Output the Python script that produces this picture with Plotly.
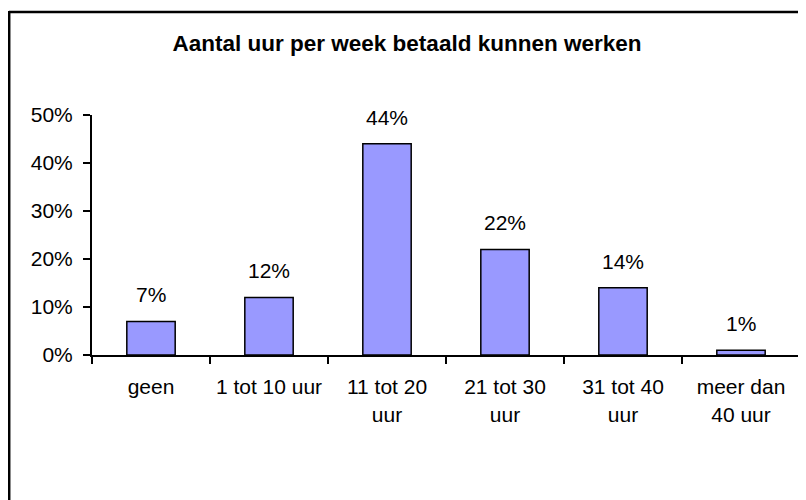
import plotly.graph_objects as go

categories = ["geen", "1 tot 10 uur", "11 tot 20<br>uur", "21 tot 30<br>uur", "31 tot 40<br>uur", "meer dan<br>40 uur"]
values = [7, 12, 44, 22, 14, 1]
tick_vals = [0, 0.1, 0.2, 0.3, 0.4, 0.5]
tick_text = ["0%", "10%", "20%", "30%", "40%", "50%"]
title_text = "Aantal uur per week betaald kunnen werken"

FONT = "Liberation Sans, Arial, sans-serif"

fig = go.Figure()
fig.add_trace(go.Bar(
    x=categories,
    y=[v / 100 for v in values],
    marker=dict(color="#9999FF", line=dict(color="black", width=1.5)),
    width=0.41,
    hoverinfo="skip",
))

for c, v in zip(categories, values):
    fig.add_annotation(
        x=c, y=v / 100, text=f"{v}%", showarrow=False,
        xref="x", yref="y", yanchor="bottom", yshift=13,
        font=dict(family=FONT, size=21, color="black"),
    )

# page body adds an 8px offset; compensate in the margins
OFF = 8
W, H = 806, 500
L, T = 92 - OFF, 115 - OFF
pw, ph = 708, 240
R, B = W - L - pw, H - T - ph

def fx(p):  # figure pixel -> paper x
    return (p - L) / pw

def fy(p):  # figure pixel -> paper y
    return (T + ph - p) / ph

# outer chart border: top and left edges (right/bottom fall outside the picture)
border = dict(color="black", width=2.5)
fig.add_shape(type="line", xref="paper", yref="paper",
              x0=fx(1), x1=fx(W), y0=fy(4), y1=fy(4), line=border, layer="above")
fig.add_shape(type="line", xref="paper", yref="paper",
              x0=fx(1.2), x1=fx(1.2), y0=fy(3), y1=fy(H), line=border, layer="above")

fig.update_layout(
    width=W, height=H,
    margin=dict(l=L, r=R, t=T, b=B),
    paper_bgcolor="white", plot_bgcolor="white",
    showlegend=False,
    font=dict(family=FONT, size=21, color="black"),
    title=dict(text=f"<b>{title_text}</b>", x=(407 - OFF) / W, xanchor="center",
               y=1 - (43 - OFF) / H, yanchor="middle", yref="container",
               font=dict(family=FONT, size=22.5, color="black")),
)
fig.update_xaxes(
    showline=True, linecolor="black", linewidth=2,
    ticks="outside", tickson="boundaries", ticklen=7, tickwidth=2, tickcolor="black",
    showgrid=False, range=[-0.5, 5.5], fixedrange=True,
    tickfont=dict(family=FONT, size=21, color="black"),
    ticklabelstandoff=12,
)
fig.update_yaxes(
    range=[0, 0.5], tickvals=tick_vals, ticktext=tick_text,
    showline=True, linecolor="black", linewidth=2,
    ticks="outside", ticklen=7, tickwidth=2, tickcolor="black",
    showgrid=False, zeroline=False, fixedrange=True,
    tickfont=dict(family=FONT, size=21, color="black"),
    ticklabelstandoff=6,
)

fig.write_html("out.html")
